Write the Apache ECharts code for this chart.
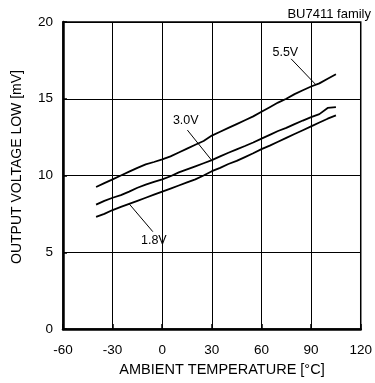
<!DOCTYPE html>
<html><head><meta charset="utf-8">
<script src="https://cdn.jsdelivr.net/npm/echarts@6/dist/echarts.min.js"></script>
<style>html,body{margin:0;padding:0;background:#fff}#c{width:375px;height:383px}</style>
</head><body><div id="c"></div>
<script>
const temps = [-40,-35,-30,-25,-20,-15,-10,-5,0,5,10,15,20,25,30,35,40,45,50,55,60,65,70,75,80,85,90,95,100,105];
const v55 = [9.25,9.5,9.75,10.0,10.25,10.5,10.72,10.88,11.05,11.25,11.5,11.75,12.0,12.25,12.6,12.85,13.1,13.35,13.6,13.85,14.15,14.45,14.75,15.0,15.3,15.55,15.8,16.0,16.3,16.6];
const v30 = [8.1,8.35,8.55,8.72,8.95,9.2,9.4,9.58,9.75,9.95,10.2,10.4,10.6,10.8,11.0,11.25,11.48,11.7,11.92,12.15,12.4,12.65,12.9,13.1,13.35,13.58,13.8,14.0,14.4,14.45];
const v18 = [7.3,7.5,7.75,7.95,8.15,8.35,8.55,8.75,8.95,9.15,9.35,9.55,9.75,10.0,10.28,10.5,10.75,10.95,11.2,11.45,11.72,11.95,12.2,12.45,12.7,12.95,13.2,13.45,13.7,13.92];
const seriesNames = ['5.5V','3.0V','1.8V'];
// leader lines: [from point on curve], [to label end]; label anchor
const leaderFrom = [[93,15.9],[29.8,11.0],[-19.9,8.14]];
const leaderTo = [[77.9,17.6],[15.2,12.96],[-5.7,6.34]];
const labelAt = [[74.4,17.98],[14.2,13.55],[-5.1,5.73]];
const xTicks = [-60,-30,0,30,60,90,120];
const yTicks = [0,5,10,15,20];
const xTitle = 'AMBIENT TEMPERATURE [°C]';
const yTitle = 'OUTPUT VOLTAGE LOW [mV]';
const note = 'BU7411 family';

const FONT = '"Liberation Sans", Arial, sans-serif';
const allVals = [v55, v30, v18];
const series = allVals.map((vals, i) => ({
  name: seriesNames[i], type: 'line', showSymbol: false, smooth: false,
  data: temps.map((t, k) => [t, vals[k]]),
  lineStyle: {color: '#000', width: 1.8},
  markLine: {silent: true, symbol: ['none','none'], lineStyle: {color: '#000', width: 1, type: 'solid'}, label: {show: false},
    data: [[{coord: leaderFrom[i]}, {coord: leaderTo[i]}]]},
  markPoint: {symbol: 'circle', symbolSize: 0, silent: true,
    label: {show: true, formatter: seriesNames[i], color: '#000', fontSize: 12.5, fontFamily: FONT, position: 'inside'},
    data: [{coord: labelAt[i]}]}
}));

const chart = echarts.init(document.getElementById('c'), null, {renderer: 'canvas'});
chart.setOption({
  animation: false,
  backgroundColor: '#fff',
  grid: {left: 63, right: 4, top: 22, bottom: 54, show: true, borderColor: '#000', borderWidth: 1.5, backgroundColor: 'transparent'},
  graphic: [
    {type: 'text', right: 4, top: 8, style: {text: note, fill: '#000', font: '13px ' + FONT}},
    {type: 'text', x: 222, y: 370, style: {text: xTitle, fill: '#000', font: '14.5px ' + FONT, textAlign: 'center', textVerticalAlign: 'middle'}},
    {type: 'text', x: 17, y: 167, rotation: Math.PI / 2, style: {text: yTitle, fill: '#000', font: '14px ' + FONT, textAlign: 'center', textVerticalAlign: 'middle'}}
  ],
  xAxis: {type: 'value', min: xTicks[0], max: xTicks[xTicks.length-1], interval: 30,
    axisLine: {show: true, onZero: false, lineStyle: {color: '#000', width: 2.5}},
    axisTick: {show: true, inside: true, length: 5, lineStyle: {color: '#000', width: 1.5}},
    axisLabel: {color: '#000', fontSize: 13.5, fontFamily: FONT, margin: 14, showMaxLabel: true, alignMaxLabel: 'center', alignMinLabel: 'center'},
    splitLine: {show: true, lineStyle: {color: '#000', width: 1}}},
  yAxis: {type: 'value', min: yTicks[0], max: yTicks[yTicks.length-1], interval: 5,
    axisLine: {show: true, onZero: false, lineStyle: {color: '#000', width: 2.5}},
    axisTick: {show: true, inside: true, length: 4, lineStyle: {color: '#000', width: 1.5}},
    axisLabel: {color: '#000', fontSize: 13.5, fontFamily: FONT, margin: 10},
    splitLine: {show: true, lineStyle: {color: '#000', width: 1}}},
  series: series
});
</script></body></html>
